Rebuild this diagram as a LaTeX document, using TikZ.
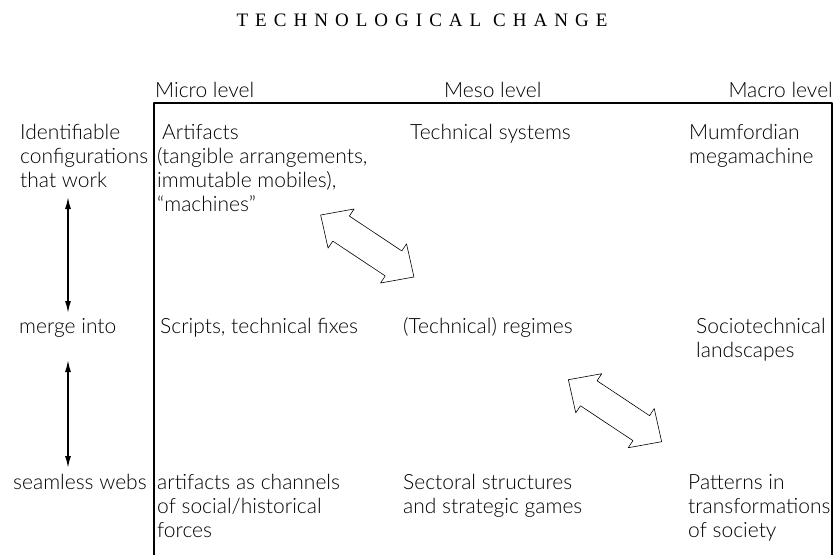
\documentclass[tikz,border=0pt]{standalone}
\usepackage{fontspec}
\setmainfont{Lato Light}
\newfontfamily\titlefont[LetterSpace=37]{Liberation Serif}
\usetikzlibrary{arrows.meta}
\newcommand\cellfont{\fontsize{21}{24}\selectfont}
\tikzset{
  cell/.style={anchor=base west,align=left,inner sep=0pt,font=\cellfont},
  swaparrow/.pic={
    \draw[line width=0.6pt] (-56,0)--(-31.5,-23.5)--(-31.5,-15)--(31.5,-15)--(31.5,-23.5)
      --(56,0)--(31.5,23.5)--(31.5,15)--(-31.5,15)--(-31.5,23.5)--cycle;
  }
}
\begin{document}
\begin{tikzpicture}[x=1pt,y=-1pt,line join=round,>={Latex[length=12pt,width=6pt]}]
\useasboundingbox (0,0) rectangle (835,555);

\node[anchor=base,inner sep=0pt,font=\titlefont\fontsize{19}{22}\selectfont] (title) at (422,26) {TECHNOLOGICAL CHANGE};

% level headings and frame
\node[cell] (micro) at (155,97) {Micro level};
\node[cell] (meso) at (444,97) {Meso level};
\node[cell,anchor=base east] (macro) at (833,97) {Macro level};
\draw[line width=2pt] (153.5,555)--(153.5,103)--(831.5,103)--(831.5,555);

% left column (base = last line)
\node[cell] (idConf) at (20,187) {Identifiable\\configurations\\that work};
\node[cell] (mergeInto) at (19,333) {merge into};
\node[cell] (seamless) at (13,489) {seamless webs};

\coordinate (upA) at (68,197);
\coordinate (dnA) at (68,313);
\coordinate (upB) at (68,360);
\coordinate (dnB) at (68,468);
\draw[<->,line width=1.5pt] (upA)--(dnA);
\draw[<->,line width=1.5pt] (upB)--(dnB);

% micro
\node[cell] (artifacts) at (157,211) {\hspace*{5pt}Artifacts\\(tangible arrangements,\\immutable mobiles),\\``machines''};
\node[cell] (scripts) at (160,333) {Scripts, technical fixes};
\node[cell] (channels) at (157,537) {artifacts as channels\\of social/historical\\forces};

% meso
\node[cell] (techSys) at (410,139) {Technical systems};
\node[cell] (regimes) at (403,333) {(Technical) regimes};
\node[cell] (sectoral) at (403,513) {Sectoral structures\\and strategic games};

% macro
\node[cell] (megamachine) at (689,163) {Mumfordian\\megamachine};
\node[cell] (landscapes) at (696,357) {Sociotechnical\\landscapes};
\node[cell] (patterns) at (688,537) {Patterns in\\transformations\\of society};

\pic[rotate=-33.6] (swapA) at (367.3,246) {swaparrow};
\pic[rotate=-33.6] (swapB) at (615,410.7) {swaparrow};
\end{tikzpicture}
\end{document}
